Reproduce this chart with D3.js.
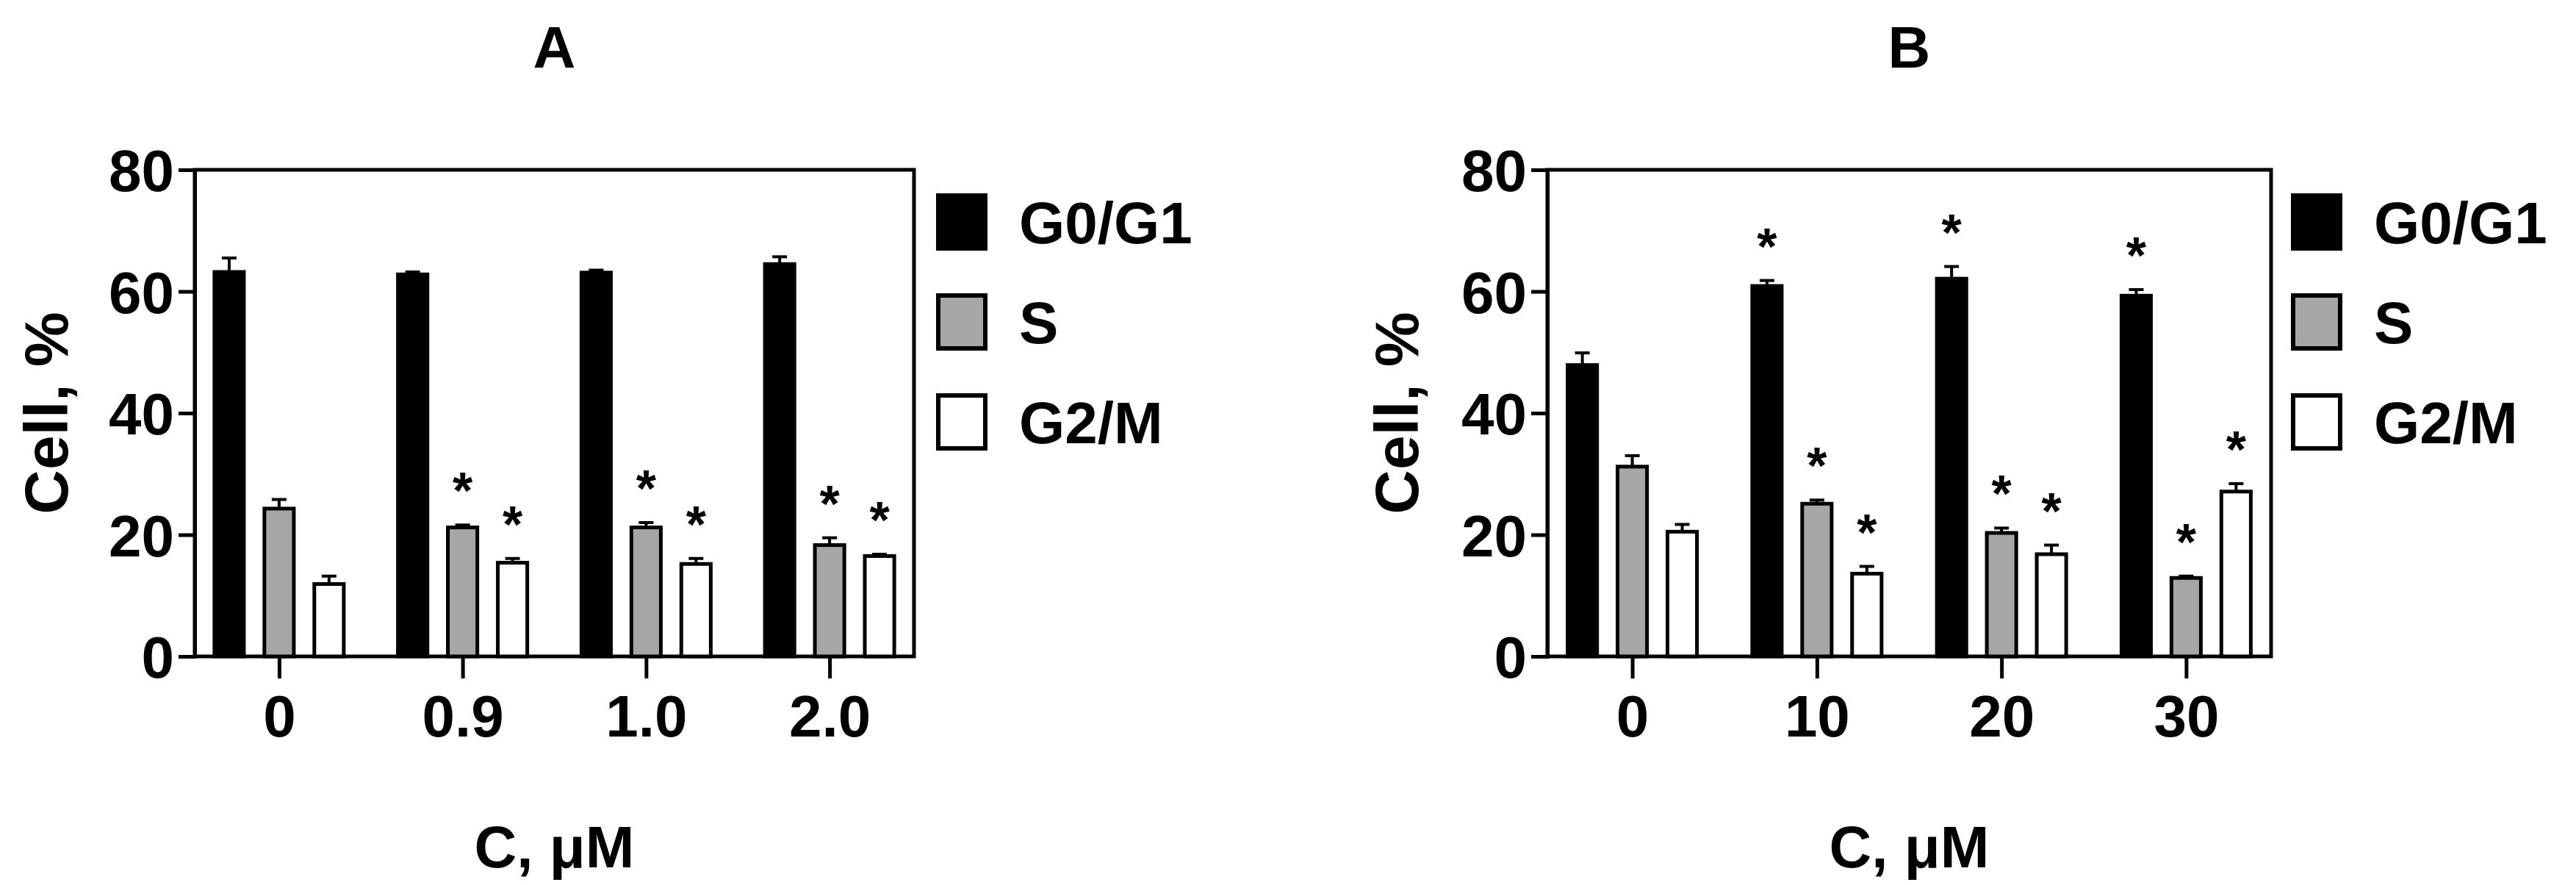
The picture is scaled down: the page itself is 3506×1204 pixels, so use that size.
<!DOCTYPE html>
<html>
<head>
<meta charset="utf-8">
<script src="https://cdn.jsdelivr.net/npm/d3@7"></script>
<style>
  body { margin: 0; background: #fff; }
  text { font-family: "Liberation Sans", Arial, sans-serif; font-weight: bold; }
</style>
</head>
<body>
<svg id="chart" width="3506" height="1204"></svg>
<script>
// data
const phases = ['G0/G1', 'S', 'G2/M'];
const phaseFill = ['#000000', '#a6a6a6', '#ffffff'];
const yTicks = [0, 20, 40, 60, 80];

const catsA = ['0', '0.9', '1.0', '2.0'];
const meanA = [
  [63.2, 62.8, 63.1, 64.5],
  [24.3, 21.2, 21.2, 18.3],
  [11.9, 15.4, 15.2, 16.5]
];
const errA = [
  [2.3, 0.4, 0.4, 1.2],
  [1.5, 0.4, 0.8, 1.2],
  [1.3, 0.7, 0.9, 0.3]
];
const starA = [
  [0, 0, 0, 0],
  [0, 1, 1, 1],
  [0, 1, 1, 1]
];

const catsB = ['0', '10', '20', '30'];
const meanB = [
  [47.9, 60.9, 62.1, 59.3],
  [31.2, 25.1, 20.3, 12.9],
  [20.5, 13.6, 16.8, 27.1]
];
const errB = [
  [2.0, 0.9, 2.0, 1.0],
  [1.8, 0.6, 0.8, 0.3],
  [1.2, 1.2, 1.5, 1.3]
];
const starB = [
  [0, 1, 1, 1],
  [0, 1, 1, 1],
  [0, 1, 1, 1]
];

const svg = d3.select('#chart');

function panel(opt) {
  const g = svg.append('g');
  const x = d3.scalePoint().domain(opt.cats).range([opt.left, opt.right]).padding(0.46);
  const y = d3.scaleLinear().domain([0, 80]).range([893, 231]);
  const sub = d3.scaleBand().domain(d3.range(3)).range([-88, 88]).paddingInner(0.41);

  // frame
  g.append('rect').attr('x', opt.left).attr('y', y(80))
    .attr('width', opt.right - opt.left).attr('height', y(0) - y(80))
    .attr('fill', 'none').attr('stroke', '#000').attr('stroke-width', 5);

  // y axis
  const ya = g.append('g').attr('transform', `translate(${opt.left},0)`)
    .call(d3.axisLeft(y).tickValues(yTicks).tickSize(22).tickPadding(6));
  ya.select('.domain').attr('stroke-width', 5);
  ya.selectAll('.tick line').attr('stroke-width', 5);
  ya.selectAll('text').attr('font-size', 80).attr('dy', '0.36em');

  // x axis
  const xa = g.append('g').attr('transform', `translate(0,${y(0)})`)
    .call(d3.axisBottom(x).tickSize(30).tickPadding(22).tickSizeOuter(0));
  xa.select('.domain').remove();
  xa.selectAll('.tick line').attr('stroke-width', 5);
  xa.selectAll('text').attr('font-size', 80);

  phases.forEach((p, j) => {
    const data = opt.cats.map((c, i) => ({ c, v: opt.mean[j][i], e: opt.err[j][i], s: opt.star[j][i] }));
    const bx = d => x(d.c) + sub(j);
    const cx = d => bx(d) + sub.bandwidth() / 2;
    // error bars (upper only)
    g.selectAll(null).data(data).enter().append('line')
      .attr('x1', cx).attr('x2', cx)
      .attr('y1', d => y(d.v)).attr('y2', d => y(d.v + d.e))
      .attr('stroke', '#000').attr('stroke-width', 4);
    g.selectAll(null).data(data).enter().append('line')
      .attr('x1', d => cx(d) - 10).attr('x2', d => cx(d) + 10)
      .attr('y1', d => y(d.v + d.e)).attr('y2', d => y(d.v + d.e))
      .attr('stroke', '#000').attr('stroke-width', 4);
    g.selectAll(null).data(data).enter().append('rect')
      .attr('x', bx).attr('width', sub.bandwidth())
      .attr('y', d => y(d.v)).attr('height', d => y(0) - y(d.v))
      .attr('fill', phaseFill[j]).attr('stroke', '#000').attr('stroke-width', 5);
    g.selectAll(null).data(data.filter(d => d.s)).enter().append('text')
      .attr('x', cx).attr('y', d => y(d.v + d.e) - 22)
      .attr('text-anchor', 'middle').attr('font-size', 70).attr('font-weight', 'normal')
      .text('*');
  });

  // legend
  phases.forEach((p, j) => {
    const cy = 302 + j * 136;
    g.append('rect').attr('x', opt.legX).attr('y', cy - 36).attr('width', 64).attr('height', 72)
      .attr('fill', phaseFill[j]).attr('stroke', '#000').attr('stroke-width', 6);
    g.append('text').attr('x', opt.legX + 110).attr('y', cy).attr('dy', '0.36em')
      .attr('font-size', 80).text(p);
  });

  // titles
  const mid = (opt.left + opt.right) / 2;
  g.append('text').attr('x', mid).attr('y', 92).attr('text-anchor', 'middle')
    .attr('font-size', 80).text(opt.title);
  g.append('text').attr('x', mid).attr('y', 1180).attr('text-anchor', 'middle')
    .attr('font-size', 80).text('C, μM');
  g.append('text').attr('transform', `translate(${opt.yLabX},562) rotate(-90)`)
    .attr('text-anchor', 'middle').attr('dy', '0.36em')
    .attr('font-size', 84).text('Cell, %');
}

panel({ title: 'A', cats: catsA, mean: meanA, err: errA, star: starA, left: 265, right: 1244, legX: 1277, yLabX: 62 });
panel({ title: 'B', cats: catsB, mean: meanB, err: errB, star: starB, left: 2106, right: 3091, legX: 3121, yLabX: 1900 });
</script>
</body>
</html>
